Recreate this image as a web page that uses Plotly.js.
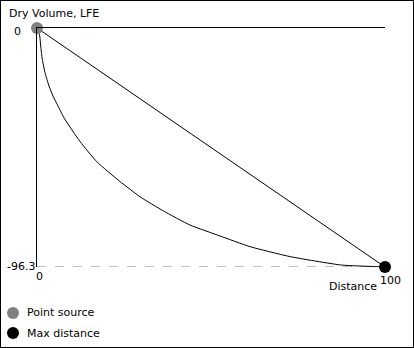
<!DOCTYPE html>
<html>
<head>
<meta charset="utf-8">
<script src="https://cdn.plot.ly/plotly-3.0.1.min.js"></script>
<style>
html,body{margin:0;padding:0;background:#fff;}
#chart{width:412px;height:346px;border:1px solid #000;}
</style>
</head>
<body>
<div id="chart"></div>
<script>
// Data
const curveDistance = [0, 0.78, 1.06, 1.52, 2.30, 3.45, 4.6, 6.03, 7.8, 12.4, 17.2, 23.9, 29.6, 36.3, 44.0, 52.6, 61.2, 72.7, 87.4, 98.6, 100];
const curveVolume   = [0, -3.2, -7.25, -12.6, -18.0, -23.4, -27.4, -31.4, -36.3, -45.8, -53.9, -61.9, -68.0, -73.7, -79.4, -83.8, -88.1, -92.1, -95.5, -96.2, -96.3];
const linearDistance = [0, 100];
const linearVolume = [0, -96.3];
const minDistance = 0, maxDistance = 100;
const maxVolume = 0, minVolume = -96.3;
const xTickLabels = ["0", "100"];
const yTickLabels = ["0", "-96.3"];
const legendLabels = ["Point source", "Max distance"];
const pointColors = ["#808080", "#000000"];
const titleText = "Dry Volume, LFE";
const xTitleText = "Distance";

const W = 412, H = 346;
const L = 36, R = 28, T = 27, B = 80;
const pw = W - L - R, ph = H - T - B;
const px = (x) => (x - 1 - L) / pw;      // image px -> paper x
const py = (y) => (H - B - (y - 1)) / ph; // image px -> paper y
const font = {family: "DejaVu Sans, Verdana, sans-serif", size: 11, color: "#000"};

const traces = [
  {x: [minDistance, maxDistance], y: [minVolume, minVolume], mode: "lines", line: {color: "#808080", width: 1, dash: "9px,9px"}, hoverinfo: "skip"},
  {x: linearDistance, y: linearVolume, mode: "lines", line: {color: "#000", width: 1}, hoverinfo: "skip"},
  {x: curveDistance, y: curveVolume, mode: "lines", line: {color: "#000", width: 1, shape: "spline", smoothing: 0.5}, hoverinfo: "skip"},
  {x: [minDistance], y: [maxVolume], mode: "markers", marker: {color: pointColors[0], size: 12}, cliponaxis: false},
  {x: [maxDistance], y: [minVolume], mode: "markers", marker: {color: pointColors[1], size: 12}, cliponaxis: false}
];

const annotations = [
  {text: titleText, x: px(8), y: py(13), xanchor: "left", yanchor: "middle"},
  {text: yTickLabels[0], x: px(22), y: py(31.5), xanchor: "right", yanchor: "middle"},
  {text: yTickLabels[1], x: px(36), y: py(266), xanchor: "right", yanchor: "middle"},
  {text: xTickLabels[0], x: px(39.5), y: py(276), xanchor: "center", yanchor: "middle"},
  {text: xTickLabels[1], x: px(390), y: py(280.5), xanchor: "center", yanchor: "middle"},
  {text: xTitleText, x: px(352.5), y: py(286.5), xanchor: "center", yanchor: "middle"},
  {text: legendLabels[0], x: px(26), y: py(312.5), xanchor: "left", yanchor: "middle"},
  {text: legendLabels[1], x: px(26), y: py(333), xanchor: "left", yanchor: "middle"}
].map(a => Object.assign({xref: "paper", yref: "paper", showarrow: false, font: font, borderpad: 0}, a));

const shapes = [
  {type: "circle", xref: "paper", yref: "paper", xsizemode: "pixel", ysizemode: "pixel",
   xanchor: px(13), yanchor: py(313), x0: -6, x1: 6, y0: -6, y1: 6,
   fillcolor: pointColors[0], line: {width: 0}},
  {type: "circle", xref: "paper", yref: "paper", xsizemode: "pixel", ysizemode: "pixel",
   xanchor: px(13), yanchor: py(333), x0: -6, x1: 6, y0: -6, y1: 6,
   fillcolor: pointColors[1], line: {width: 0}}
];

const layout = {
  width: W, height: H,
  margin: {l: L, r: R, t: T, b: B, pad: 0},
  paper_bgcolor: "#fff", plot_bgcolor: "#fff",
  showlegend: false,
  xaxis: {range: [minDistance, maxDistance], side: "top", showgrid: false, zeroline: false, showline: true, linecolor: "#000", linewidth: 1, showticklabels: false, ticks: "", fixedrange: true},
  yaxis: {range: [minVolume, maxVolume], showgrid: false, zeroline: false, showline: true, linecolor: "#000", linewidth: 1, showticklabels: false, ticks: "", fixedrange: true},
  annotations: annotations,
  shapes: shapes,
  font: font
};

Plotly.newPlot("chart", traces, layout, {staticPlot: true, displayModeBar: false});
</script>
</body>
</html>
